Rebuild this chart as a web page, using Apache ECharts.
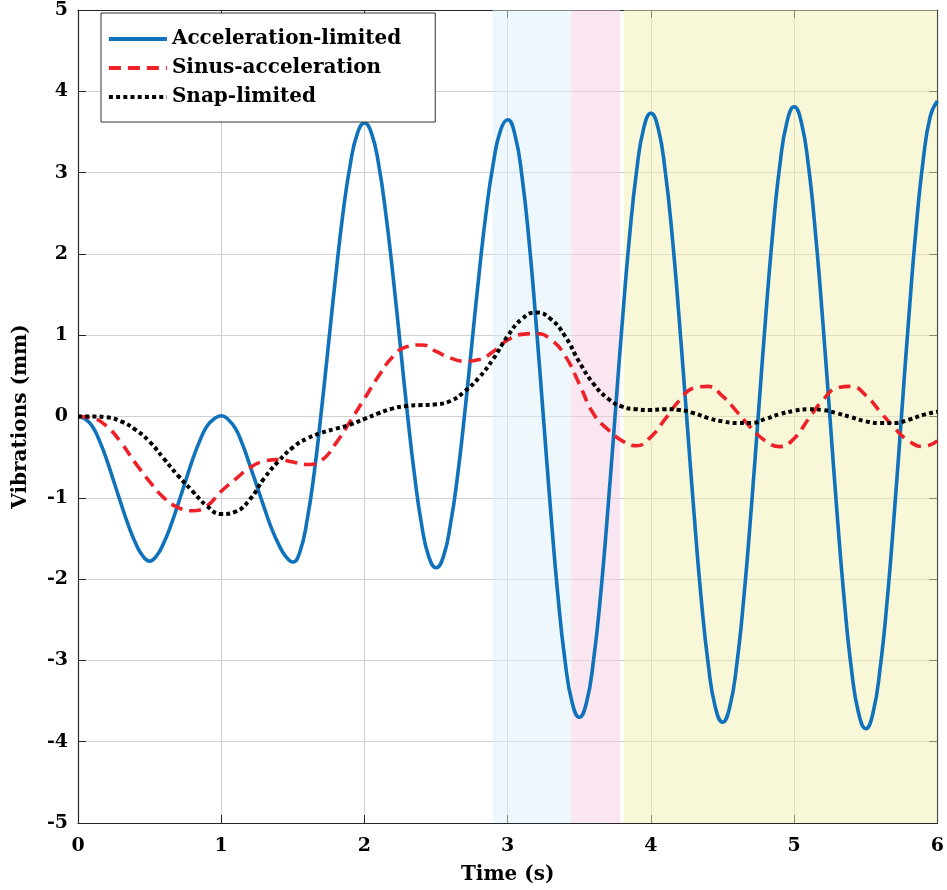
<!DOCTYPE html>
<html>
<head>
<meta charset="utf-8">
<script src="https://cdn.jsdelivr.net/npm/echarts@6/dist/echarts.min.js"></script>
<style>
html,body{margin:0;padding:0;background:#fff;}
#chart{width:947px;height:890px;}
</style>
</head>
<body>
<div id="chart"></div>
<script>
// ---- Data ----
// fine time grid (0.05 s) for the fast-oscillating curve
var timeFine = [0,0.05,0.1,0.15,0.2,0.25,0.3,0.35,0.4,0.45,0.5,0.55,0.6,0.65,0.7,0.75,0.8,0.85,0.9,0.95,
  1.0,1.05,1.1,1.15,1.2,1.25,1.3,1.35,1.4,1.45,1.5,1.55,1.6,1.65,1.7,1.75,1.8,1.85,1.9,1.95,
  2.0,2.05,2.1,2.15,2.2,2.25,2.3,2.35,2.4,2.45,2.5,2.55,2.6,2.65,2.7,2.75,2.8,2.85,2.9,2.95,
  3.0,3.05,3.1,3.15,3.2,3.25,3.3,3.35,3.4,3.45,3.5,3.55,3.6,3.65,3.7,3.75,3.8,3.85,3.9,3.95,
  4.0,4.05,4.1,4.15,4.2,4.25,4.3,4.35,4.4,4.45,4.5,4.55,4.6,4.65,4.7,4.75,4.8,4.85,4.9,4.95,
  5.0,5.05,5.1,5.15,5.2,5.25,5.3,5.35,5.4,5.45,5.5,5.55,5.6,5.65,5.7,5.75,5.8,5.85,5.9,5.95,6.0];

var accelLimited = [0,-0.03,-0.12,-0.3,-0.53,-0.8,-1.07,-1.33,-1.55,-1.71,-1.78,-1.71,-1.55,-1.33,-1.07,-0.8,-0.53,-0.3,-0.12,-0.03,
  0.01,-0.04,-0.15,-0.35,-0.6,-0.86,-1.12,-1.37,-1.57,-1.72,-1.79,-1.66,-1.27,-0.68,0.08,0.91,1.74,2.5,3.09,3.48,
  3.61,3.48,3.09,2.48,1.72,0.875,0.03,-0.73,-1.34,-1.73,-1.86,-1.73,-1.33,-0.73,0.04,0.895,1.75,2.52,3.12,3.52,
  3.65,3.47,2.95,2.14,1.11,-0.025,-1.16,-2.19,-3.0,-3.52,-3.7,-3.52,-2.99,-2.17,-1.13,0.015,1.16,2.2,3.02,3.55,
  3.73,3.55,3.015,2.19,1.14,-0.015,-1.17,-2.22,-3.045,-3.58,-3.76,-3.575,-3.04,-2.2,-1.145,0.025,1.195,2.25,3.09,3.625,
  3.81,3.62,3.08,2.23,1.167,-0.015,-1.2,-2.26,-3.11,-3.65,-3.84,-3.65,-3.1,-2.25,-1.17,0.02,1.21,2.29,3.14,3.69,3.88];

// coarse time grid (0.1 s) for the slower curves
var timeCoarse = [0,0.1,0.2,0.3,0.4,0.5,0.6,0.7,0.8,0.9,1.0,1.1,1.2,1.3,1.4,1.5,1.6,1.7,1.8,1.9,2.0,2.1,2.2,2.3,2.4,2.5,2.6,2.7,2.8,2.9,3.0,3.1,3.2,3.3,3.4,3.5,3.6,3.7,3.8,3.9,4.0,4.1,4.2,4.3,4.4,4.5,4.6,4.7,4.8,4.9,5.0,5.1,5.2,5.3,5.4,5.5,5.6,5.7,5.8,5.9,6.0];

var sinusAccel = [0,-0.02,-0.12,-0.32,-0.57,-0.8,-1.0,-1.12,-1.16,-1.1,-0.92,-0.77,-0.63,-0.55,-0.53,-0.56,-0.59,-0.54,-0.33,-0.06,0.22,0.5,0.74,0.86,0.88,0.8,0.72,0.68,0.7,0.8,0.94,1.01,1.02,0.95,0.75,0.4,0.03,-0.16,-0.3,-0.36,-0.25,-0.03,0.2,0.35,0.37,0.25,0.06,-0.14,-0.3,-0.37,-0.27,-0.03,0.2,0.35,0.37,0.26,0.06,-0.14,-0.3,-0.37,-0.3];

var snapLimited = [0,0,-0.01,-0.06,-0.16,-0.31,-0.52,-0.73,-0.92,-1.1,-1.2,-1.17,-1.02,-0.76,-0.55,-0.38,-0.27,-0.2,-0.15,-0.1,-0.03,0.04,0.1,0.13,0.14,0.15,0.19,0.31,0.48,0.71,0.99,1.2,1.28,1.2,0.99,0.67,0.4,0.22,0.12,0.09,0.08,0.09,0.08,0.04,-0.02,-0.06,-0.08,-0.08,-0.03,0.03,0.07,0.09,0.08,0.04,-0.01,-0.06,-0.08,-0.08,-0.04,0.02,0.06];

var seriesNames = ['Acceleration-limited','Sinus-acceleration','Snap-limited'];

var bandStart = [2.895, 3.445, 3.81];
var bandEnd   = [3.445, 3.786, 6];

var xTicks = [0,1,2,3,4,5,6];
var yTicks = [-5,-4,-3,-2,-1,0,1,2,3,4,5];

// ---- Build ----
function pairs(xs, ys){ return xs.map(function(x,i){ return [x, ys[i]]; }); }

var bandColors = ['rgba(221,239,247,0.5)', 'rgba(245,205,225,0.5)', 'rgba(241,241,177,0.5)'];
var areas = bandStart.map(function(s,i){
  return [{xAxis: s, itemStyle:{color: bandColors[i]}}, {xAxis: bandEnd[i]}];
});

var FONT = 'DejaVu Serif';
var axisColor = '#262626';

var chart = echarts.init(document.getElementById('chart'), null, {renderer:'canvas'});
chart.setOption({
  animation: false,
  backgroundColor: '#ffffff',
  grid: {left: 78, right: 7, top: 10, bottom: 66},
  legend: {
    left: 101, top: 13, orient: 'vertical',
    padding: [16, 34, 15, 6],
    borderColor: '#333', borderWidth: 1, backgroundColor: '#fff',
    itemWidth: 58, itemHeight: 14, itemGap: 9,
    itemStyle: {opacity: 0},
    lineStyle: {width: 3.8},
    textStyle: {fontFamily: FONT, fontWeight: 'bold', fontSize: 20, color: '#000', lineHeight: 20},
    data: seriesNames
  },
  xAxis: [{
    type: 'value', min: xTicks[0], max: xTicks[xTicks.length-1], interval: 1,
    name: 'Time (s)', nameLocation: 'middle', nameGap: 42,
    nameTextStyle: {fontFamily: FONT, fontWeight: 'bold', fontSize: 20, color: '#000'},
    axisLine: {onZero: false, lineStyle: {color: axisColor, width: 1.2}},
    axisTick: {inside: true, length: 8, lineStyle: {color: axisColor}},
    axisLabel: {fontFamily: FONT, fontWeight: 'bold', fontSize: 19, color: '#000', margin: 14},
    splitLine: {show: true, lineStyle: {color: '#d0d0d0', width: 1}}
  },{
    type: 'value', position: 'top', min: 0, max: 6, interval: 1,
    axisLine: {show: true, onZero: false, lineStyle: {color: axisColor, width: 1.2}},
    axisTick: {inside: true, length: 8, lineStyle: {color: axisColor}},
    axisLabel: {show: false}, splitLine: {show: false}
  }],
  yAxis: [{
    type: 'value', min: yTicks[0], max: yTicks[yTicks.length-1], interval: 1,
    name: 'Vibrations (mm)', nameLocation: 'middle', nameGap: 47,
    nameTextStyle: {fontFamily: FONT, fontWeight: 'bold', fontSize: 20, color: '#000'},
    axisLine: {show: true, onZero: false, lineStyle: {color: axisColor, width: 1.2}},
    axisTick: {show: true, inside: true, length: 8, lineStyle: {color: axisColor}},
    axisLabel: {fontFamily: FONT, fontWeight: 'bold', fontSize: 19, color: '#000', margin: 10},
    splitLine: {show: true, lineStyle: {color: '#d0d0d0', width: 1}}
  },{
    type: 'value', position: 'right', min: -5, max: 5, interval: 1,
    axisLine: {show: true, onZero: false, lineStyle: {color: axisColor, width: 1.2}},
    axisTick: {show: true, inside: true, length: 8, lineStyle: {color: axisColor}},
    axisLabel: {show: false}, splitLine: {show: false}
  }],
  series: [
    {
      type: 'line', name: '_bands', data: [], z: 1, silent: true,
      markArea: {silent: true, data: areas}
    },
    {
      type: 'line', name: seriesNames[0], data: pairs(timeFine, accelLimited),
      smooth: true, showSymbol: false, symbol: 'none', z: 3,
      lineStyle: {color: '#0f72ba', width: 3.6},
      itemStyle: {color: '#0f72ba'}
    },
    {
      type: 'line', name: seriesNames[1], data: pairs(timeCoarse, sinusAccel),
      smooth: true, showSymbol: false, symbol: 'none', z: 4,
      lineStyle: {color: '#ee2128', width: 3.6, type: [12, 7]},
      itemStyle: {color: '#ee2128'}
    },
    {
      type: 'line', name: seriesNames[2], data: pairs(timeCoarse, snapLimited),
      smooth: true, showSymbol: false, symbol: 'none', z: 5,
      lineStyle: {color: '#000', width: 4, type: [4, 3.2]},
      itemStyle: {color: '#000'}
    }
  ]
});
</script>
</body>
</html>
